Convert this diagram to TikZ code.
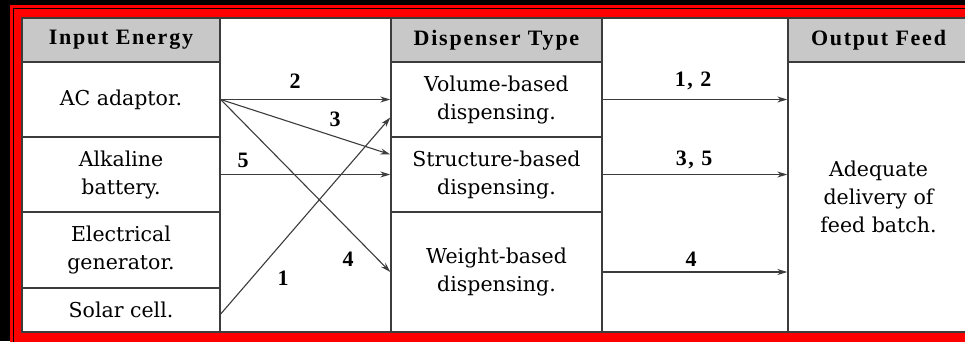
\documentclass[tikz,border=0pt]{standalone}
\usepackage{fontspec}
\setmainfont{DejaVu Serif}
\newfontfamily\cellfont{DejaVu Serif}
\newfontfamily\headfont[LetterSpace=8.0]{Liberation Serif}
\usetikzlibrary{arrows.meta,calc}
\definecolor{hdr}{RGB}{200,200,200}
\definecolor{gridc}{RGB}{60,60,60}
\definecolor{bred}{RGB}{255,0,0}
\begin{document}
\begin{tikzpicture}[x=1pt,y=-1pt,
  cell/.style={draw=gridc,line width=1.4pt,fill=white,inner sep=0pt,align=center,font=\cellfont\fontsize{20.5}{28}\selectfont},
  hcell/.style={cell,fill=hdr,font=\headfont\fontsize{22}{26}\selectfont\bfseries},
  conn/.style={draw=gridc,line width=1.1pt,-{Stealth[length=10pt,width=6pt]}},
  lbl/.style={font=\headfont\fontsize{22}{26}\selectfont\bfseries,inner sep=0pt}]
\useasboundingbox (0,0) rectangle (965,341);
\clip (0,0) rectangle (965,341);
% frame
\fill[black] (0,0) rectangle (965,341);
\fill[bred] (10,5) rectangle (990,360);
\draw[black,line width=1pt] (13.5,8) rectangle (990,360);
% table body
\draw[gridc,line width=1.4pt,fill=white] (22,18) rectangle (969,332);
% input column
\node[hcell,minimum width=198,minimum height=44] (hin) at (121,40) {Input Energy};
\node[cell,minimum width=198,minimum height=75] (ac) at (121,99.5) {AC adaptor.};
\node[cell,minimum width=198,minimum height=75] (alk) at (121,174.5) {Alkaline\\battery.};
\node[cell,minimum width=198,minimum height=76] (gen) at (121,250) {Electrical\\generator.};
\node[cell,minimum width=198,minimum height=44] (sol) at (121,310) {Solar cell.};
% dispenser column
\node[hcell,minimum width=211,minimum height=44] (hdisp) at (496.5,40) {Dispenser Type};
\node[cell,minimum width=211,minimum height=75] (vol) at (496.5,99.5) {Volume-based\\dispensing.};
\node[cell,minimum width=211,minimum height=75] (str) at (496.5,174.5) {Structure-based\\dispensing.};
\node[cell,minimum width=211,minimum height=120] (wgt) at (496.5,272) {Weight-based\\dispensing.};
% output column
\node[hcell,minimum width=181,minimum height=44] (hout) at (878.5,40) {Output Feed};
\node[cell,minimum width=181,minimum height=270] (out) at (878.5,197) {Adequate\\delivery of\\feed batch.};
% connectors left
\draw[conn] (ac.east) -- (vol.west);
\draw[conn] (ac.east) -- ($(str.west)+(0,-20)$);
\draw[conn] (ac.east) -- (wgt.west);
\draw[conn] (alk.east) -- (str.west);
\draw[conn] ($(sol.east)+(0,4)$) -- ($(vol.west)+(0,18)$);
% connectors right
\draw[conn] (vol.east) -- (vol.east -| out.west);
\draw[conn] (str.east) -- (str.east -| out.west);
\draw[conn] (wgt.east) -- (wgt.east -| out.west);
% labels
\node[lbl] (l2) at (295,81) {2};
\node[lbl] (l3) at (335,119) {3};
\node[lbl] (l5) at (243,160) {5};
\node[lbl] (l4) at (348,259) {4};
\node[lbl] (l1) at (283,278) {1};
\node[lbl] (r12) at (693,81) {1, 2};
\node[lbl] (r35) at (694,160) {3, 5};
\node[lbl] (r4) at (691,259) {4};
\end{tikzpicture}
\end{document}
